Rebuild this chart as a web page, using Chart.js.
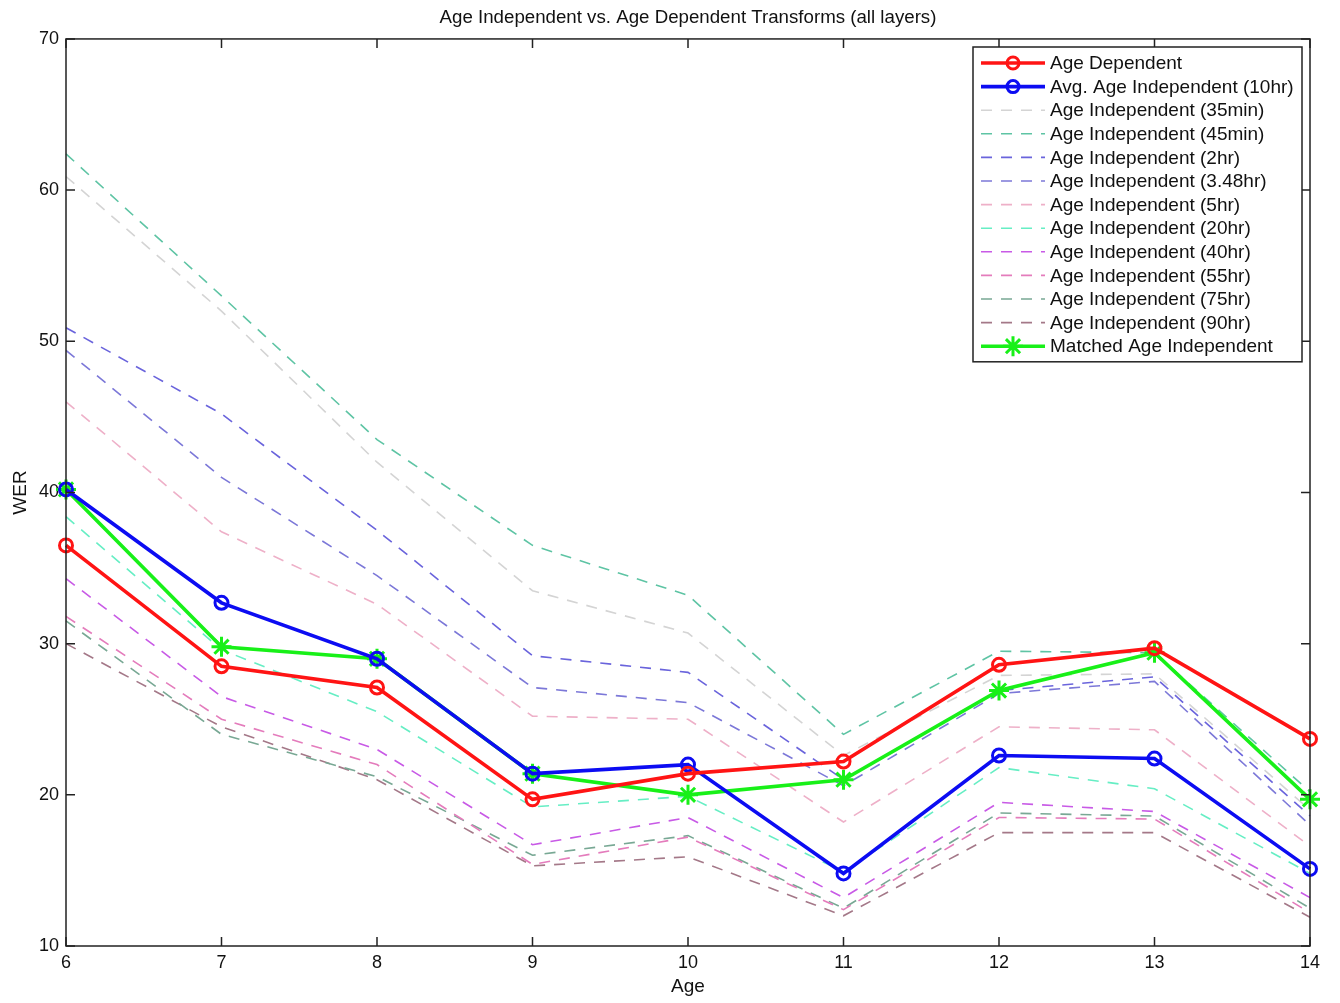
<!DOCTYPE html>
<html>
<head>
<meta charset="utf-8">
<script src="https://cdn.jsdelivr.net/npm/chart.js@4/dist/chart.umd.min.js"></script>
<style>
  html, body { margin: 0; padding: 0; background: #fff; }
  #wrap { width: 1340px; height: 1003px; }
</style>
</head>
<body>
<div id="wrap"><canvas id="werChart" width="1340" height="1003"></canvas></div>
<script>
const ages = ['6', '7', '8', '9', '10', '11', '12', '13', '14'];
const yTicks = [10, 20, 30, 40, 50, 60, 70];

const ageDependent   = [36.5, 28.5, 27.1, 19.7, 21.4, 22.2, 28.6, 29.7, 23.7];
const avgIndep10hr   = [40.2, 32.7, 29.0, 21.4, 22.0, 14.8, 22.6, 22.4, 15.1];
const indep35min     = [60.9, 52.0, 42.0, 33.5, 30.7, 22.6, 27.9, 28.0, 19.0];
const indep45min     = [62.4, 53.0, 43.5, 36.5, 33.2, 24.0, 29.5, 29.4, 20.2];
const indep2hr       = [50.9, 45.2, 37.5, 29.2, 28.1, 21.0, 26.9, 27.8, 18.6];
const indep348hr     = [49.4, 41.0, 34.5, 27.1, 26.1, 20.6, 26.7, 27.5, 18.0];
const indep5hr       = [46.0, 37.4, 32.6, 25.2, 25.0, 18.2, 24.5, 24.3, 16.6];
const indep20hr      = [38.4, 29.6, 25.5, 19.2, 19.9, 14.9, 21.8, 20.4, 14.8];
const indep40hr      = [34.3, 26.5, 23.0, 16.7, 18.5, 13.2, 19.5, 18.9, 13.2];
const indep55hr      = [31.8, 25.0, 22.0, 15.4, 17.2, 12.4, 18.5, 18.4, 12.2];
const indep75hr      = [31.5, 24.0, 21.2, 16.0, 17.3, 12.5, 18.8, 18.6, 12.5];
const indep90hr      = [30.0, 24.5, 21.0, 15.3, 15.9, 12.0, 17.5, 17.5, 11.9];
const matchedIndep   = [40.2, 29.8, 29.0, 21.4, 20.0, 21.0, 26.9, 29.4, 19.7];

const FONT = "'Liberation Sans', Arial, sans-serif";

function solid(label, data, color, style) {
    return {
        label, data,
        borderColor: color,
        backgroundColor: 'rgba(0,0,0,0)',
        borderWidth: 3.6,
        pointStyle: style,
        pointRadius: style === 'star' ? 10 : 6.5,
        pointBorderWidth: 3,
        pointBorderColor: color,
        pointBackgroundColor: 'rgba(0,0,0,0)',
        tension: 0,
        order: 0,
    };
}

function dashed(label, data, color) {
    return {
        label, data,
        borderColor: color,
        borderWidth: 1.6,
        borderDash: [11, 9],
        pointRadius: 0,
        tension: 0,
        order: 1,
    };
}

const datasets = [
    solid('Age Dependent', ageDependent, '#ff1414', 'circle'),
    solid('Avg. Age Independent (10hr)', avgIndep10hr, '#0c0cf2', 'circle'),
    dashed('Age Independent (35min)', indep35min, '#d4d4d4'),
    dashed('Age Independent (45min)', indep45min, '#5ec4a4'),
    dashed('Age Independent (2hr)', indep2hr, '#6a64dc'),
    dashed('Age Independent (3.48hr)', indep348hr, '#7c78d8'),
    dashed('Age Independent (5hr)', indep5hr, '#eeb0c8'),
    dashed('Age Independent (20hr)', indep20hr, '#66eec4'),
    dashed('Age Independent (40hr)', indep40hr, '#c85ae6'),
    dashed('Age Independent (55hr)', indep55hr, '#e47cbc'),
    dashed('Age Independent (75hr)', indep75hr, '#78a894'),
    dashed('Age Independent (90hr)', indep90hr, '#a47888'),
    solid('Matched Age Independent', matchedIndep, '#18f018', 'star'),
];

// frame + inward ticks, matlab style
const framePlugin = {
    id: 'frame',
    afterDatasetsDraw(chart) {
        const { ctx, chartArea: a, scales } = chart;
        ctx.save();
        ctx.strokeStyle = '#222';
        ctx.lineWidth = 1.5;
        ctx.strokeRect(a.left, a.top, a.right - a.left, a.bottom - a.top);
        const len = 9;
        ctx.beginPath();
        ages.forEach((_, i) => {
            const x = scales.x.getPixelForValue(i);
            ctx.moveTo(x, a.bottom); ctx.lineTo(x, a.bottom - len);
            ctx.moveTo(x, a.top); ctx.lineTo(x, a.top + len);
        });
        yTicks.forEach(v => {
            const y = scales.y.getPixelForValue(v);
            ctx.moveTo(a.left, y); ctx.lineTo(a.left + len, y);
            ctx.moveTo(a.right, y); ctx.lineTo(a.right - len, y);
        });
        ctx.stroke();
        ctx.restore();
    },
};

// legend box inside the plot, upper right
const boxLegend = {
    id: 'boxLegend',
    afterDraw(chart) {
        const { ctx } = chart;
        const x0 = 973, y0 = 47, w = 329, rowH = 23.6;
        const sets = chart.data.datasets;
        const h = rowH * sets.length + 8;
        ctx.save();
        ctx.fillStyle = '#fff';
        ctx.fillRect(x0, y0, w, h);
        ctx.strokeStyle = '#222';
        ctx.lineWidth = 1.5;
        ctx.strokeRect(x0, y0, w, h);
        ctx.font = '19px ' + FONT;
        ctx.textBaseline = 'middle';
        sets.forEach((ds, i) => {
            const y = y0 + 16 + i * rowH;
            const lx1 = x0 + 8, lx2 = x0 + 72;
            ctx.strokeStyle = ds.borderColor;
            ctx.lineWidth = ds.borderWidth;
            ctx.setLineDash(ds.borderDash || []);
            ctx.beginPath();
            ctx.moveTo(lx1, y); ctx.lineTo(lx2, y);
            ctx.stroke();
            ctx.setLineDash([]);
            if (ds.pointRadius) {
                const cx = (lx1 + lx2) / 2;
                ctx.lineWidth = ds.pointBorderWidth;
                ctx.strokeStyle = ds.pointBorderColor;
                ctx.fillStyle = 'rgba(0,0,0,0)';
                Chart.helpers.drawPoint(ctx, {
                    pointStyle: ds.pointStyle,
                    radius: ds.pointStyle === 'star' ? 10 : 6,
                    borderWidth: ds.pointBorderWidth,
                    rotation: 0,
                }, cx, y);
            }
            ctx.fillStyle = '#111';
            ctx.fillText(ds.label, x0 + 77, y + 1);
        });
        ctx.restore();
    },
};

const ctx = document.getElementById('werChart').getContext('2d');
new Chart(ctx, {
    type: 'line',
    data: { labels: ages, datasets },
    plugins: [framePlugin, boxLegend],
    options: {
        responsive: false,
        animation: false,
        devicePixelRatio: 1,
        layout: { padding: { left: 9, right: 30, top: 0, bottom: 0 } },
        plugins: {
            legend: { display: false },
            tooltip: { enabled: false },
            title: {
                display: true,
                fullSize: false,
                text: 'Age Independent vs. Age Dependent Transforms (all layers)',
                color: '#111',
                font: { family: FONT, size: 18.7, weight: 'normal' },
                padding: { top: 7, bottom: 9.5 },
            },
        },
        scales: {
            x: {
                offset: false,
                grid: { display: false, drawTicks: false },
                border: { display: false },
                ticks: { color: '#111', font: { family: FONT, size: 18 }, padding: 6, maxRotation: 0, autoSkip: false },
                title: { display: true, text: 'Age', color: '#111', font: { family: FONT, size: 19 }, padding: { top: 2, bottom: 5 } },
                afterFit: s => { s.height = 57; },
            },
            y: {
                min: 10, max: 70,
                grid: { display: false, drawTicks: false },
                border: { display: false },
                ticks: { stepSize: 10, color: '#111', font: { family: FONT, size: 18 }, padding: 7 },
                title: { display: true, text: 'WER', color: '#111', font: { family: FONT, size: 19 }, padding: { top: 0, bottom: 8 } },
                afterFit: s => { s.width = 57; },
            },
        },
    },
});
</script>
</body>
</html>
